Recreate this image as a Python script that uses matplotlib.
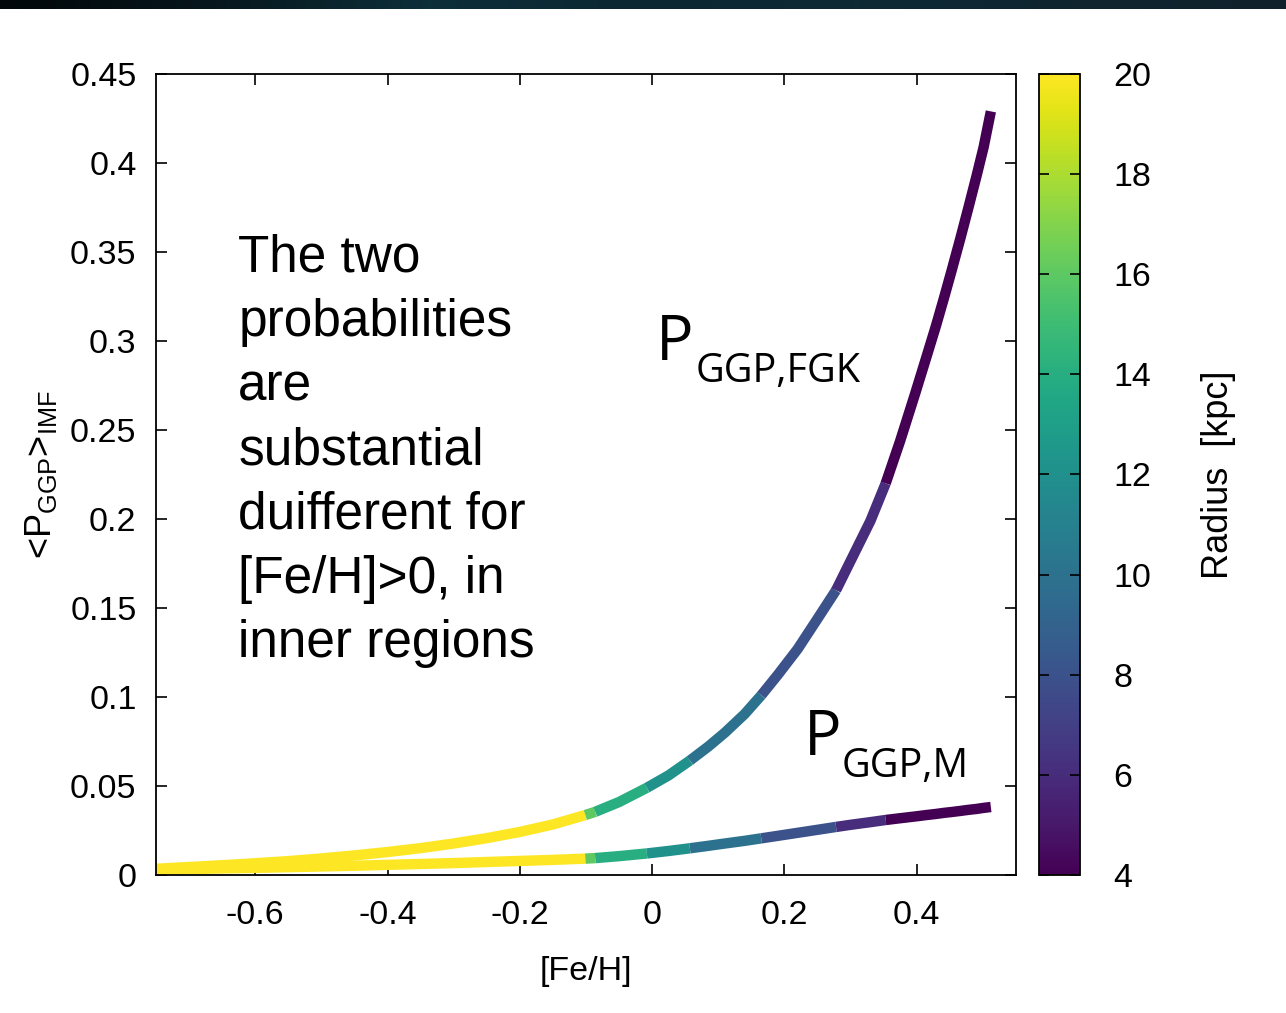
import numpy as np
import matplotlib.pyplot as plt
from matplotlib.colors import Normalize, LinearSegmentedColormap
from matplotlib.ticker import FuncFormatter

plt.rcParams['font.family'] = ['Liberation Sans', 'DejaVu Sans']
plt.rcParams['axes.unicode_minus'] = False
plt.rcParams['mathtext.fontset'] = 'custom'
plt.rcParams['mathtext.rm'] = 'Liberation Sans'
plt.rcParams['mathtext.it'] = 'Liberation Sans:italic'

# values
feh = [-0.75, -0.70, -0.65, -0.60, -0.55, -0.50, -0.45, -0.40, -0.35, -0.30,
       -0.25, -0.20, -0.15, -0.101, -0.086, -0.05, -0.008, 0.025, 0.057, 0.085,
       0.11, 0.14, 0.165, 0.19, 0.22, 0.25, 0.278, 0.30, 0.33, 0.353,
       0.375, 0.398, 0.415, 0.429, 0.441, 0.453, 0.466, 0.478, 0.490, 0.501,
       0.512]
p_fgk = [0.0035, 0.0045, 0.0055, 0.0066, 0.0078, 0.0093, 0.0110, 0.0129, 0.0151, 0.0177,
         0.0207, 0.0242, 0.0284, 0.0337, 0.0355, 0.0410, 0.0490, 0.0560, 0.0643, 0.0722,
         0.0800, 0.0905, 0.1010, 0.1125, 0.1270, 0.1440, 0.1600, 0.1765, 0.1990, 0.2200,
         0.2440, 0.2710, 0.2915, 0.3085, 0.3240, 0.3400, 0.3578, 0.3748, 0.3922, 0.4088,
         0.4290]
p_m = [0.0030, 0.0033, 0.0037, 0.0040, 0.0044, 0.0048, 0.0052, 0.0057, 0.0062, 0.0067,
       0.0073, 0.0079, 0.0085, 0.0092, 0.0095, 0.0106, 0.0121, 0.0135, 0.0150, 0.0164,
       0.0177, 0.0192, 0.0206, 0.0220, 0.0237, 0.0254, 0.0270, 0.0282, 0.0297, 0.0309,
       0.0319, 0.0329, 0.0337, 0.0343, 0.0349, 0.0354, 0.0360, 0.0366, 0.0371, 0.0377,
       0.0382]
# radius [kpc] of the piece of curve ending at each point
radius = [20, 20, 20, 20, 20, 20, 20, 20, 20, 20,
          20, 20, 20, 20, 16, 14, 14, 12, 12, 10,
          10, 10, 10, 8, 8, 8, 8, 6, 6, 6,
          4, 4, 4, 4, 4, 4, 4, 4, 4, 4,
          4]

xticks = [-0.6, -0.4, -0.2, 0, 0.2, 0.4]
yticks = [0, 0.05, 0.1, 0.15, 0.2, 0.25, 0.3, 0.35, 0.4, 0.45]
cticks = [4, 6, 8, 10, 12, 14, 16, 18, 20]
note = ['The two', 'probabilities', 'are', 'substantial',
        'duifferent for', '[Fe/H]>0, in', 'inner regions']

fig = plt.figure(figsize=(12.86, 10.13), dpi=100)

# dark slide band at the very top
band = fig.add_axes([0, 1 - 9 / 1013, 1, 9 / 1013])
band_cmap = LinearSegmentedColormap.from_list(
    'band', ['#01070a', '#07171d', '#0d2f3a', '#0b2731', '#0e2a35', '#0f2530', '#10222c'])
band.imshow(np.linspace(0, 1, 256)[None, :], cmap=band_cmap, aspect='auto')
band.axis('off')

ax = fig.add_axes([156 / 1286, 1 - 875 / 1013, 860 / 1286, 801 / 1013])
cax = fig.add_axes([1039 / 1286, 1 - 875 / 1013, 41 / 1286, 801 / 1013])

norm = Normalize(4, 20)
cmap = plt.get_cmap('viridis')

# draw each constant-radius run as its own line
for p in (p_fgk, p_m):
    start = 0
    for i in range(1, len(feh) + 1):
        if i == len(feh) or radius[i] != radius[start + 1]:
            ax.plot(feh[start:i], p[start:i], color=cmap(norm(radius[i - 1])),
                    lw=7.5, solid_capstyle='butt', solid_joinstyle='round')
            start = i - 1

ax.set_xlim(-0.75, 0.55)
ax.set_ylim(0, 0.45)
ax.set_xticks(xticks)
ax.set_yticks(yticks)
fmt = FuncFormatter(lambda v, pos: '%g' % round(v, 3))
ax.xaxis.set_major_formatter(fmt)
ax.yaxis.set_major_formatter(fmt)
ax.tick_params(direction='in', length=8, width=1.2, top=True, right=True,
               labelsize=24.5, pad=14)
ax.tick_params(axis='x', pad=18)
for s in ax.spines.values():
    s.set_linewidth(1.3)

ax.set_xlabel('[Fe/H]', fontsize=24.5, labelpad=18)
ax.set_ylabel(r'<P$_{\rm GGP}$>$_{\rm IMF}$', fontsize=26, labelpad=8)

# annotation text, one line per baseline
for i, line in enumerate(note):
    ax.text(-0.6256, (875 - 272 - 64.1 * i) * 0.45 / 801, line, fontsize=37,
            va='baseline', ha='left')

ax.text(0.006, 0.2893, 'P', fontsize=45, family='Open Sans', va='baseline')
ax.text(0.0654, 0.277, 'GGP,FGK', fontsize=28.5, family='Open Sans', va='baseline')
ax.text(0.2286, 0.0674, 'P', fontsize=45, family='Open Sans', va='baseline')
ax.text(0.2857, 0.0551, 'GGP,M', fontsize=28.5, family='Open Sans', va='baseline')

sm = plt.cm.ScalarMappable(norm=norm, cmap=cmap)
cb = fig.colorbar(sm, cax=cax, ticks=cticks)
cb.outline.set_linewidth(1.3)
cax.tick_params(direction='in', length=7, width=1.2, left=True, right=True,
                labelsize=24.5, pad=24)
cb.set_label('Radius  [kpc]', fontsize=26, labelpad=36)

fig.savefig('out.png', dpi=100)
